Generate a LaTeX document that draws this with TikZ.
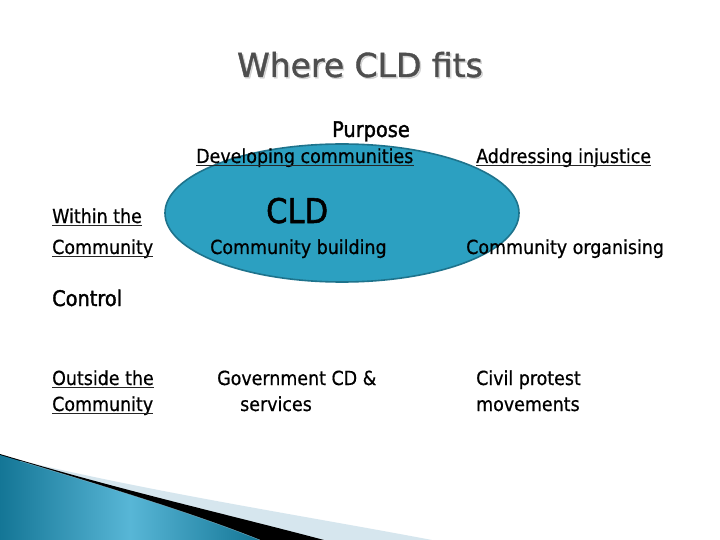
\documentclass[tikz,border=0pt]{standalone}
\usepackage{fontspec}
\setmainfont{DejaVu Sans Condensed}[FakeBold=0.6]
\newfontfamily\headfont{DejaVu Sans Condensed}[FakeBold=1.6]
\newfontfamily\titlefont{DejaVu Sans}[FakeBold=1.2]
\begin{document}
\begin{tikzpicture}[x=1pt,y=-1pt,
  txt/.style={inner sep=0pt,anchor=base west,font=\fontsize{19.4}{22}\selectfont,text=black},
  bigtxt/.style={txt,font=\headfont\fontsize{21.5}{25}\selectfont},
  ulline/.style={line width=1pt,black!85}]
\definecolor{cldfill}{RGB}{44,160,193}
\definecolor{cldborder}{RGB}{30,115,140}
\definecolor{titlegray}{RGB}{78,78,78}
\definecolor{swooshlight}{RGB}{214,230,238}
\definecolor{swooshdark}{RGB}{20,118,150}
\definecolor{swooshmid}{RGB}{88,182,214}
\useasboundingbox (0,0) rectangle (720,540);
\fill[white] (0,0) rectangle (720,540);
% bottom swoosh
\fill[swooshlight] (10,458) .. controls (150,492) and (300,515) .. (432,540) -- (0,540) -- cycle;
\fill[black] (0,454) .. controls (120,490) and (230,515) .. (324,540) -- (0,540) -- cycle;
\shade[left color=swooshdark,right color=swooshdark,middle color=swooshmid]
  (0,455) .. controls (90,482) and (190,512) .. (260,540) -- (0,540) -- cycle;
\draw[white!70!cyan,line width=0.4pt,opacity=0.6] (20,461) .. controls (100,485) and (190,512) .. (260,540);
% title
\node[inner sep=0pt,anchor=base,font=\titlefont\fontsize{33}{38}\selectfont,text=black!25,opacity=0.6] (titleshadow) at (361.5,78.5) {Where CLD fits};
\node[inner sep=0pt,anchor=base,font=\titlefont\fontsize{33}{38}\selectfont,text=titlegray] (title) at (360,77) {Where CLD fits};
% ellipse
\draw[cldborder,line width=1.6pt,fill=cldfill] (342,213) ellipse [x radius=177,y radius=69];
% texts
\node[bigtxt] (purpose) at (332,137) {Purpose};
\node[txt] (dev) at (196,163) {Developing communities};
\node[txt] (addr) at (476,163) {Addressing injustice};
\node[txt,font=\headfont\fontsize{34}{40}\selectfont] (cld) at (266,223) {CLD};
\node[txt] (within) at (52,223) {Within the};
\node[txt] (comm1) at (52,254) {Community};
\node[txt] (build) at (210,254) {Community building};
\node[txt] (organ) at (466,254) {Community organising};
\node[bigtxt] (control) at (52,306) {Control};
\node[txt] (outside) at (52,385) {Outside the};
\node[txt] (comm2) at (52,411) {Community};
\node[txt] (gov) at (217,385) {Government CD \&};
\node[txt] (serv) at (240,411) {services};
\node[txt] (civil) at (476,385) {Civil protest};
\node[txt] (move) at (476,411) {movements};
% underlines
\foreach \n in {dev,addr,within,comm1,outside,comm2}{
  \draw[ulline] ([yshift=-2.2pt]\n.base west) -- ([yshift=-2.2pt]\n.base east);
}
\end{tikzpicture}
\end{document}
